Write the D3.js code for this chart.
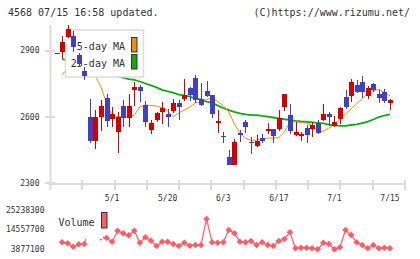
<!DOCTYPE html>
<html lang="ja">
<head>
<meta charset="UTF-8" />
<title>4568 chart</title>
<style>
  body { margin: 0; background: #fff; }
  text { font-family: "DejaVu Sans Mono", monospace; fill: #333; }
</style>
</head>
<body>
<div id="chart"></div>
<script src="https://d3js.org/d3.v7.min.js"></script>
<script>

// daily candles
var opens  = [2886,2896,2964,2968,2882,2808,2602,2493,2602,2688,2591,2534,2650,2594,2722,2737,2655,2541,2584,2624,2612,2629,2664,2682,2730,2776,2682,2718,2700,2574,2514,2419,2383,2529,2579,2488,2470,2507,2538,2546,2546,2647,2609,2519,2511,2549,2545,2573,2587,2614,2560,2591,2692,2695,2745,2760,2695,2750,2704,2715,2665];
var highs  = [2890,2967,3017,2991,2891,2828,2682,2632,2677,2704,2645,2624,2677,2704,2760,2745,2673,2587,2622,2670,2635,2682,2677,2771,2737,2790,2753,2763,2702,2632,2531,2451,2499,2541,2587,2511,2519,2523,2572,2547,2632,2706,2659,2578,2534,2564,2579,2587,2659,2622,2605,2645,2723,2771,2768,2786,2741,2753,2723,2726,2682];
var lows   = [2886,2863,2960,2896,2828,2768,2484,2455,2538,2556,2556,2439,2556,2556,2650,2670,2556,2523,2578,2568,2555,2620,2587,2673,2673,2665,2650,2691,2597,2528,2484,2381,2381,2486,2528,2431,2466,2484,2523,2484,2537,2629,2523,2514,2493,2484,2508,2523,2584,2560,2556,2568,2635,2670,2709,2685,2680,2713,2662,2665,2632];
var closes = [2890,2940,2999,2916,2843,2787,2493,2602,2650,2584,2614,2602,2594,2650,2737,2719,2579,2573,2617,2641,2599,2664,2647,2700,2700,2677,2655,2695,2614,2584,2510,2383,2486,2522,2556,2483,2492,2493,2546,2514,2597,2704,2537,2531,2522,2519,2564,2529,2614,2602,2576,2642,2647,2760,2715,2715,2730,2723,2688,2673,2677];

var ma5  = [null,2790,2822,2845,2858,2849,2813,2786,2737,2664,2607,2602,2602,2602,2609,2646,2655,2652,2650,2643,2627,2602,2618,2632,2646,2664,2670,2680,2686,2670,2652,2623,2569,2528,2504,2495,2495,2501,2505,2505,2507,2532,2578,2579,2576,2572,2562,2537,2535,2550,2566,2589,2614,2636,2661,2680,2709,2720,2725,2711,2697];
var ma25 = [null,2863,2856,2849,2840,2831,2822,2813,2804,2797,2790,2784,2779,2772,2768,2761,2752,2743,2734,2723,2716,2711,2702,2698,2692,2684,2680,2670,2664,2652,2641,2631,2623,2617,2612,2609,2609,2605,2602,2598,2594,2590,2587,2583,2580,2578,2576,2574,2571,2566,2562,2560,2560,2564,2567,2573,2579,2589,2600,2607,2612];

var volumes = [null,7547000,7000000,5140000,6450000,6620000,17190000,13190000,10180000,9900000,7880000,13900000,12480000,11380000,13900000,7330000,10290000,8420000,5520000,7880000,7880000,6620000,5520000,7330000,5680000,6070000,6070000,20310000,7550000,7330000,7550000,14280000,12480000,7880000,7550000,8260000,6070000,7550000,6070000,5520000,8260000,9350000,13020000,4260000,4590000,4590000,4260000,3710000,7330000,6620000,3710000,4810000,14280000,11550000,7550000,6070000,4260000,6070000,4260000,4590000,4260000];

var dateLabels = ["5/1","5/20","6/3","6/17","7/1","7/15"];
var dateIdx    = [10,20,30,40,50,60];
var priceTicks = [2300,2600,2900];
var volTicks   = [3877100,14557700,25238300];

var w = 420, h = 259;
var axisColor = "#dcdcdc";
var upColor = "#d40000", downColor = "#4040c0";

var svg = d3.select("#chart")
            .append("svg")
            .attr("width", w)
            .attr("height", h);

// scales
var xScale = d3.scaleLinear().domain([0, opens.length - 1]).range([56.5, 390]);
var yScale = d3.scaleLinear().domain([2300, 2900]).range([183.3, 50.8]);
var vScale = d3.scaleLinear().domain([3877100, 25238300]).range([249, 210]);
var gridScale = d3.scaleLinear().domain([0, 11]).range([50, 405]);

// header
svg.append("text").attr("x", 8).attr("y", 16).style("font-size", "10px")
   .text("4568 07/15 16:58 updated.");
svg.append("text").attr("x", 410).attr("y", 16).attr("text-anchor", "end").style("font-size", "10px")
   .text("(C)https://www.rizumu.net/");

// axes
svg.append("line").attr("x1", 50.5).attr("x2", 50.5).attr("y1", 25).attr("y2", 190)
   .attr("stroke", axisColor).attr("stroke-width", 2);
svg.append("line").attr("x1", 48).attr("x2", 405).attr("y1", 184).attr("y2", 184)
   .attr("stroke", axisColor).attr("stroke-width", 2);

svg.selectAll(".ytick").data(priceTicks).enter().append("line")
   .attr("x1", 45).attr("x2", 55)
   .attr("y1", function(d) { return Math.round(yScale(d)); })
   .attr("y2", function(d) { return Math.round(yScale(d)); })
   .attr("stroke", axisColor).attr("stroke-width", 2);
svg.selectAll(".ylabel").data(priceTicks).enter().append("text")
   .attr("x", 39.5).attr("y", function(d) { return yScale(d); })
   .attr("text-anchor", "end").attr("dominant-baseline", "central")
   .style("font-size", "8px")
   .text(function(d) { return d; });

svg.selectAll(".xtick").data(d3.range(1, 12)).enter().append("line")
   .attr("x1", function(d) { return Math.round(gridScale(d)); })
   .attr("x2", function(d) { return Math.round(gridScale(d)); })
   .attr("y1", 180).attr("y2", 190)
   .attr("stroke", axisColor).attr("stroke-width", 2);
svg.selectAll(".xlabel").data(dateLabels).enter().append("text")
   .attr("x", function(d, i) { return xScale(dateIdx[i]); })
   .attr("y", 201).attr("text-anchor", "middle")
   .style("font-size", "8px")
   .text(function(d) { return d; });

// moving averages
var maLine = d3.line()
   .defined(function(d) { return d != null; })
   .x(function(d, i) { return xScale(i); })
   .y(function(d) { return yScale(d); });

svg.append("path").datum(ma25).attr("d", maLine)
   .attr("fill", "none").attr("stroke", "#12aa12").attr("stroke-width", 1.8);
svg.append("path").datum(ma5).attr("d", maLine)
   .attr("fill", "none").attr("stroke", "#f08c00").attr("stroke-width", 1);

// legend (sits under the candles)
svg.append("rect").attr("x", 65.5).attr("y", 30).attr("width", 78).attr("height", 47)
   .attr("fill", "#fff").attr("stroke", "#dcdcdc").attr("stroke-width", 1.5);
svg.append("text").attr("x", 125).attr("y", 46.5).attr("text-anchor", "end")
   .attr("dominant-baseline", "central").style("font-size", "10px").text("5-day MA");
svg.append("text").attr("x", 125).attr("y", 63.3).attr("text-anchor", "end")
   .attr("dominant-baseline", "central").style("font-size", "10px").text("25-day MA");
svg.append("rect").attr("x", 131.5).attr("y", 37.5).attr("width", 5.5).attr("height", 14.5)
   .attr("fill", "#f08c10").attr("stroke", "#333");
svg.append("rect").attr("x", 131.5).attr("y", 54.5).attr("width", 5.5).attr("height", 14.5)
   .attr("fill", "#12aa12").attr("stroke", "#333");

// candles
var idx = d3.range(opens.length);
function cx(i) { return Math.round(xScale(i)); }
function col(i) { return closes[i] >= opens[i] ? upColor : downColor; }

svg.selectAll(".wick").data(idx).enter().append("line")
   .attr("x1", function(i) { return cx(i) + 0.5; })
   .attr("x2", function(i) { return cx(i) + 0.5; })
   .attr("y1", function(i) { return Math.round(yScale(highs[i])); })
   .attr("y2", function(i) { return Math.round(yScale(lows[i])); })
   .attr("stroke", col).attr("stroke-width", 1)
   .attr("shape-rendering", "crispEdges");

svg.selectAll(".body").data(idx).enter().append("rect")
   .attr("x", function(i) { return cx(i) - 2; })
   .attr("width", 5)
   .attr("y", function(i) { return Math.round(yScale(Math.max(opens[i], closes[i]))); })
   .attr("height", function(i) {
      return Math.max(1, Math.round(Math.abs(yScale(opens[i]) - yScale(closes[i]))));
   })
   .attr("fill", col)
   .attr("shape-rendering", "crispEdges");

// volume
var volLine = d3.line()
   .defined(function(d) { return d != null; })
   .x(function(d, i) { return xScale(i); })
   .y(function(d) { return vScale(d); });

svg.append("path").datum(volumes).attr("d", volLine)
   .attr("fill", "none").attr("stroke", "#ff5c66").attr("stroke-width", 1.2);

var diamond = d3.symbol().type(d3.symbolSquare).size(22);
svg.selectAll(".vmark").data(idx.filter(function(i) { return volumes[i] != null; }))
   .enter().append("path")
   .attr("d", diamond)
   .attr("transform", function(i) {
      return "translate(" + xScale(i) + "," + vScale(volumes[i]) + ") rotate(45)";
   })
   .attr("fill", "#ff5c66");

svg.selectAll(".vlabel").data(volTicks).enter().append("text")
   .attr("x", 44.5).attr("y", function(d) { return vScale(d); })
   .attr("text-anchor", "end").attr("dominant-baseline", "central")
   .style("font-size", "8px")
   .text(function(d) { return d; });

svg.append("rect").attr("x", 55).attr("y", 204).attr("width", 48).attr("height", 35)
   .attr("fill", "#fff");
svg.append("text").attr("x", 58.5).attr("y", 222).attr("dominant-baseline", "central")
   .style("font-size", "10px").text("Volume");
svg.append("rect").attr("x", 101.5).attr("y", 212.5).attr("width", 5.5).attr("height", 15.5)
   .attr("fill", "#ff5c66").attr("stroke", "#333");

</script>
</body>
</html>
